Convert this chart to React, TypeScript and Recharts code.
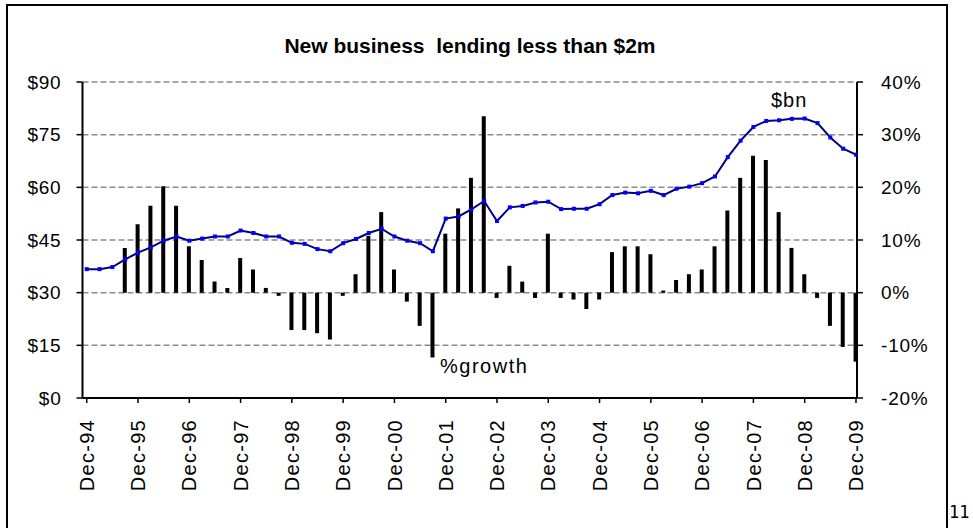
import {
  Bar,
  CartesianGrid,
  ComposedChart,
  Line,
  XAxis,
  YAxis,
} from "recharts";

// quarterly, Dec-94 .. Dec-09 (61 quarters)
const lending = [
  36.7, 36.7, 37.3, 39.5, 41.4, 42.9, 44.8, 46.0, 44.8, 45.4, 46.0, 46.0,
  47.7, 47.0, 46.0, 46.0, 44.2, 43.9, 42.4, 41.8, 44.1, 45.3, 47.0, 48.2,
  46.0, 44.8, 44.1, 41.8, 51.1, 51.7, 53.7, 56.1, 50.4, 54.3, 54.7, 55.7,
  55.9, 53.8, 53.9, 53.9, 55.2, 57.8, 58.5, 58.3, 59.0, 57.8, 59.6, 60.2,
  61.2, 63.1, 68.6, 73.3, 77.2, 78.9, 79.1, 79.5, 79.6, 78.3, 74.2, 71.0,
  69.3,
];

const growth = [
  null, null, null, 8.5, 13.0, 16.5, 20.2, 16.5, 8.8, 6.2, 2.1, 0.9,
  6.6, 4.4, 0.9, -0.6, -7.1, -7.1, -7.7, -8.9, -0.6, 3.5, 10.8, 15.3,
  4.4, -1.7, -6.3, -12.3, 11.2, 16.0, 21.8, 33.5, -1.0, 5.1, 2.1, -1.0,
  11.2, -1.0, -1.3, -3.1, -1.3, 7.7, 8.8, 8.8, 7.3, 0.4, 2.4, 3.5,
  4.4, 8.8, 15.6, 21.8, 26.0, 25.2, 15.3, 8.5, 3.5, -1.0, -6.3, -10.3,
  -13.1,
];

const yearLabels = [
  "Dec-94", "Dec-95", "Dec-96", "Dec-97", "Dec-98", "Dec-99", "Dec-00",
  "Dec-01", "Dec-02", "Dec-03", "Dec-04", "Dec-05", "Dec-06", "Dec-07",
  "Dec-08", "Dec-09",
];

const leftTicks = [0, 15, 30, 45, 60, 75, 90];
const rightTicks = [-20, -10, 0, 10, 20, 30, 40];

const rows = lending.map((v, i) => ({ i, value: v, growth: growth[i] }));
const xTicks = yearLabels.map((_, k) => k * 4);

const FONT = "'Liberation Sans', Arial, sans-serif";

const XTick = (props: any) => {
  const { x, y, payload } = props;
  return (
    <g transform={`translate(${x},${y})`}>
      <text
        transform="rotate(-90)"
        textAnchor="end"
        dy="0.36em"
        fontSize={20}
        letterSpacing={1.3}
        fill="#000"
        fontFamily={FONT}
      >
        {yearLabels[payload.value / 4]}
      </text>
    </g>
  );
};

const SquareDot = (props: any) => {
  const { cx, cy, index } = props;
  if (cx == null || cy == null) return <g key={index} />;
  return (
    <rect key={index} x={cx - 2} y={cy - 2} width={4} height={4} fill="#0000ff" />
  );
};

export default function App() {
  return (
    <div
      style={{
        position: "fixed",
        left: 0,
        top: 0,
        width: 973,
        height: 528,
        overflow: "hidden",
        background: "#fff",
        fontFamily: FONT,
      }}
    >
      <div
        style={{
          position: "absolute",
          left: 6,
          top: 4,
          width: 942,
          height: 600,
          boxSizing: "border-box",
          border: "2px solid #000",
        }}
      />
      <div
        style={{
          position: "absolute",
          left: 0,
          width: 940,
          top: 34,
          textAlign: "center",
          fontWeight: "bold",
          fontSize: 21,
          color: "#000",
        }}
      >
        New business&nbsp; lending less than $2m
      </div>
      <div style={{ position: "absolute", left: 0, top: 0 }}>
        <ComposedChart
          width={973}
          height={528}
          data={rows}
          margin={{ top: 82, right: 0, bottom: 0, left: 0 }}
        >
          <CartesianGrid
            yAxisId="left"
            vertical={false}
            stroke="#8c8c8c"
            strokeWidth={1.5}
            strokeDasharray="6 3"
          />
          <XAxis
            dataKey="i"
            type="number"
            domain={[-0.33, 60.08]}
            ticks={xTicks}
            interval={0}
            height={130}
            tick={<XTick />}
            tickSize={5}
            tickMargin={16}
            axisLine={{ stroke: "#000", strokeWidth: 2 }}
            tickLine={{ stroke: "#000", strokeWidth: 1.5 }}
            allowDataOverflow
          />
          <YAxis
            yAxisId="left"
            orientation="left"
            width={82.5}
            domain={[0, 90]}
            ticks={leftTicks}
            interval={0}
            tickFormatter={(v: number) => `$${v}`}
            tick={{ fontSize: 19, fill: "#000", fontFamily: FONT, letterSpacing: 0.8 }}
            tickSize={6}
            tickMargin={15}
            axisLine={{ stroke: "#000", strokeWidth: 2 }}
            tickLine={{ stroke: "#000", strokeWidth: 1.5 }}
          />
          <YAxis
            yAxisId="right"
            orientation="right"
            width={116}
            domain={[-20, 40]}
            ticks={rightTicks}
            interval={0}
            tickFormatter={(v: number) => `${v}%`}
            tick={{ fontSize: 19, fill: "#000", fontFamily: FONT, letterSpacing: 0.8 }}
            tickSize={6}
            tickMargin={18}
            axisLine={{ stroke: "#000", strokeWidth: 2 }}
            tickLine={{ stroke: "#000", strokeWidth: 1.5 }}
          />
          <Bar
            yAxisId="right"
            dataKey="growth"
            fill="#000"
            barSize={4}
            isAnimationActive={false}
          />
          <Line
            yAxisId="left"
            dataKey="value"
            type="linear"
            stroke="#000080"
            strokeWidth={2}
            dot={<SquareDot />}
            activeDot={false}
            isAnimationActive={false}
          />
        </ComposedChart>
      </div>
      <div
        style={{
          position: "absolute",
          left: 771,
          top: 89,
          fontSize: 20,
          letterSpacing: 1,
          color: "#000",
        }}
      >
        $bn
      </div>
      <div
        style={{
          position: "absolute",
          left: 440,
          top: 355,
          fontSize: 20,
          letterSpacing: 1.5,
          color: "#000",
        }}
      >
        %growth
      </div>
      <div
        style={{
          position: "absolute",
          left: 949,
          top: 502,
          fontSize: 17,
          fontFamily: "'DejaVu Sans Mono', monospace",
          color: "#000",
        }}
      >
        11
      </div>
    </div>
  );
}
